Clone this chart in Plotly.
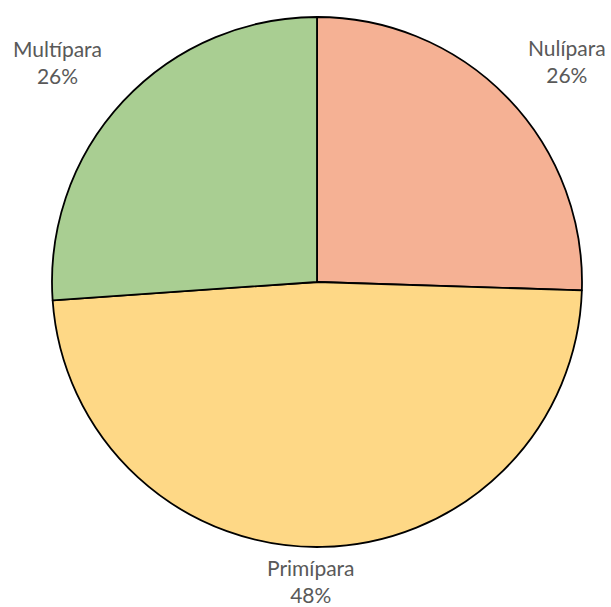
import plotly.graph_objects as go

# Parity distribution
categories = ["Nulípara", "Primípara", "Multípara"]
shares = [25.5, 48.4, 26.1]
slice_colors = ["#F5B194", "#FED886", "#A9CE92"]

# Label placement (paper coordinates) for each category
label_pos = {
    "Nulípara": (567 / 611, 1 - 61 / 607),
    "Primípara": (311 / 611, 1 - 581 / 607),
    "Multípara": (57 / 611, 1 - 62 / 607),
}

total = sum(shares)
pct_text = [f"{round(v / total * 100)}%" for v in shares]

fig = go.Figure(
    go.Pie(
        labels=categories,
        values=shares,
        sort=False,
        direction="clockwise",
        rotation=0,
        textinfo="none",
        hoverinfo="label+percent",
        marker=dict(colors=slice_colors, line=dict(color="#000000", width=1.8)),
        domain=dict(x=[52 / 611, 582 / 611], y=[1 - 547 / 607, 1 - 17 / 607]),
        showlegend=False,
    )
)

for cat, pct in zip(categories, pct_text):
    x, y = label_pos[cat]
    fig.add_annotation(
        x=x, y=y, xref="paper", yref="paper",
        text=f"{cat}<br>{pct}",
        showarrow=False,
        xanchor="center", yanchor="middle",
        align="center",
        font=dict(family="Lato, Open Sans, sans-serif", size=21, color="#595959"),
    )

fig.update_layout(
    width=611,
    height=607,
    margin=dict(l=0, r=0, t=0, b=0),
    paper_bgcolor="white",
    plot_bgcolor="white",
)

fig.write_html("out.html")
